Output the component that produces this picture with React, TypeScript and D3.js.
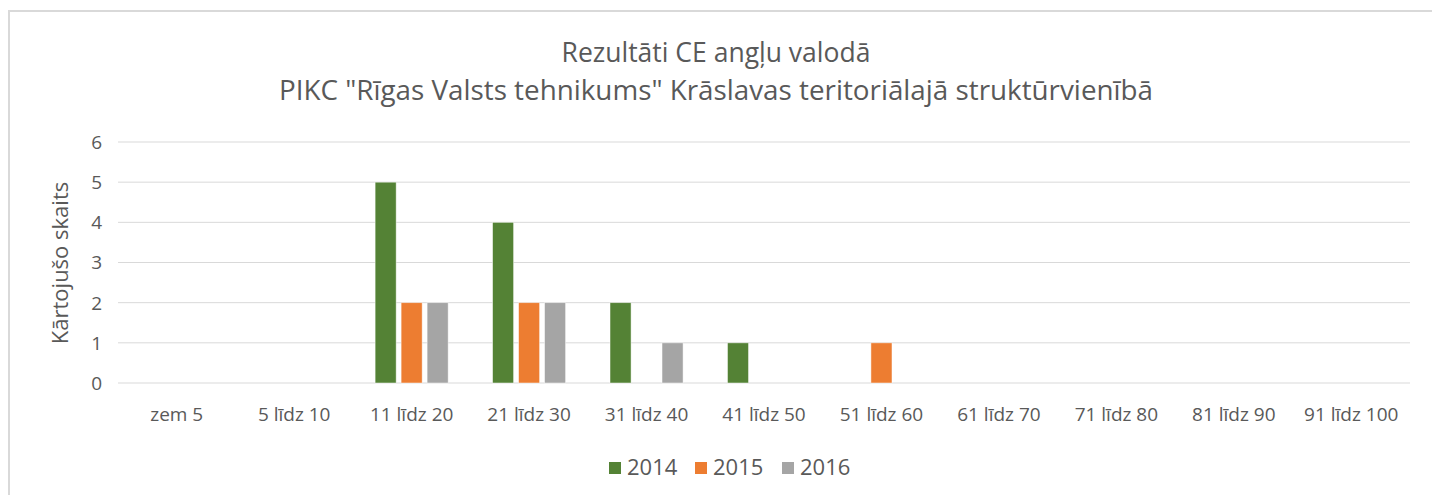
import React from "react";
import * as d3 from "d3";

const categories = ["zem 5", "5 līdz 10", "11 līdz 20", "21 līdz 30", "31 līdz 40", "41 līdz 50", "51 līdz 60", "61 līdz 70", "71 līdz 80", "81 līdz 90", "91 līdz 100"];
const seriesNames = ["2014", "2015", "2016"];
const values2014 = [0, 0, 5, 4, 2, 1, 0, 0, 0, 0, 0];
const values2015 = [0, 0, 2, 2, 0, 0, 1, 0, 0, 0, 0];
const values2016 = [0, 0, 2, 2, 1, 0, 0, 0, 0, 0, 0];
const yTicks = [0, 1, 2, 3, 4, 5, 6];
const colors = ["#548235", "#ED7D31", "#A5A5A5"];
const titleLines = ["Rezultāti CE angļu valodā", "PIKC \"Rīgas Valsts tehnikums\" Krāslavas teritoriālajā struktūrvienībā"];
const yTitle = "Kārtojušo skaits";

const FONT = "'Open Sans', sans-serif";
const TXT = "#595959";

export default function App() {
  const left = 118, right = 1410, top = 142, bottom = 383;
  const series = [values2014, values2015, values2016];
  const x0 = d3.scaleBand<string>().domain(categories).range([left, right]).paddingInner(0.378).paddingOuter(0.189);
  const x1 = d3.scaleBand<string>().domain(seriesNames).range([0, x0.bandwidth()]).paddingInner(0.19);
  const y = d3.scaleLinear().domain([0, 6]).range([bottom, top]);

  const legendX = [609, 695, 782];
  const titleSizes = [26.5, 27.8];

  return (
    <svg width={1432} height={495} style={{ position: "absolute", left: 0, top: 0, background: "#fff" }}>
      <rect x={0} y={0} width={1432} height={495} fill="#fff" />
      <rect x={9} y={11} width={1440} height={500} fill="#fff" stroke="#d9d9d9" strokeWidth={2} />
      {titleLines.map((t, i) => (
        <text key={i} x={716} y={62 + i * 38} textAnchor="middle" fontFamily={FONT} fontSize={titleSizes[i]} fill={TXT}>{t}</text>
      ))}
      {yTicks.map((t) => (
        <g key={t}>
          <line x1={left} x2={right} y1={y(t)} y2={y(t)} stroke="#d9d9d9" strokeWidth={1} />
          <text x={left - 16} y={y(t)} dy="0.36em" textAnchor="end" fontFamily={FONT} fontSize={19} fill={TXT}>{t}</text>
        </g>
      ))}
      <text transform={`translate(68,263) rotate(-90)`} textAnchor="middle" fontFamily={FONT} fontSize={22} fill={TXT}>{yTitle}</text>
      {categories.map((c, i) => (
        <g key={c}>
          {series.map((vals, s) => vals[i] > 0 ? (
            <rect key={s} x={(x0(c) as number) + (x1(seriesNames[s]) as number)} y={y(vals[i])} width={x1.bandwidth()} height={y(0) - y(vals[i])} fill={colors[s]} stroke="#ffffff" strokeOpacity={0.6} strokeWidth={0.8} />
          ) : null)}
          <text x={(x0(c) as number) + x0.bandwidth() / 2} y={421} textAnchor="middle" fontFamily={FONT} fontSize={19} fill={TXT}>{c}</text>
        </g>
      ))}
      {seriesNames.map((s, i) => (
        <g key={s}>
          <rect x={legendX[i]} y={462} width={12} height={12} fill={colors[i]} />
          <text x={legendX[i] + 18} y={475} fontFamily={FONT} fontSize={22} fill={TXT}>{s}</text>
        </g>
      ))}
    </svg>
  );
}
